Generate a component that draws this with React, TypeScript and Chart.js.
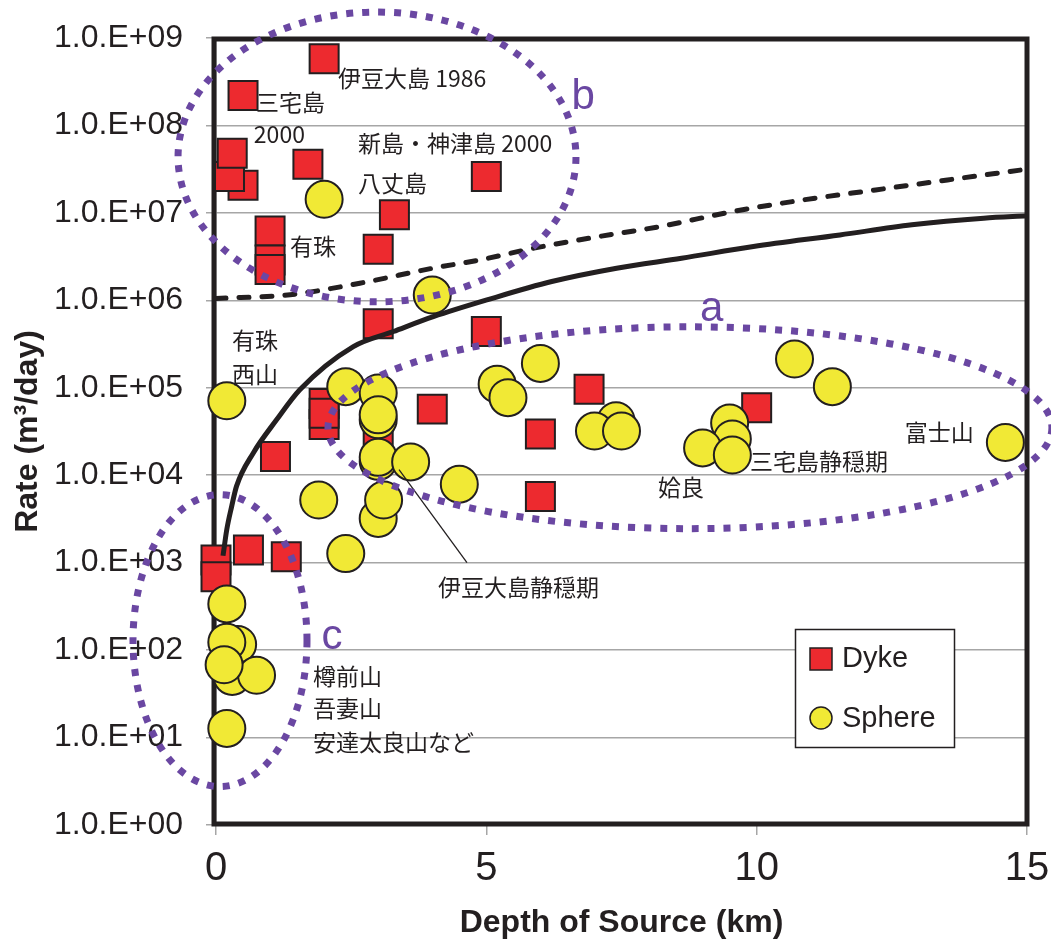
import React, { useEffect, useRef } from 'react';
import { Chart, registerables } from 'chart.js';

Chart.register(...registerables);

// ---- Axis ticks ----
const xTicks = [0, 5, 10, 15];
const yTickValues = [1, 10, 100, 1e3, 1e4, 1e5, 1e6, 1e7, 1e8, 1e9];
const yTickLabels = ['1.0.E+00', '1.0.E+01', '1.0.E+02', '1.0.E+03', '1.0.E+04', '1.0.E+05', '1.0.E+06', '1.0.E+07', '1.0.E+08', '1.0.E+09'];

// ---- Dyke (red squares) ----
const dykeDepth = [2.0, 0.5, 0.5, 0.25, 0.3, 1.7, 5.0, 3.3, 3.0, 1.0, 1.0, 1.0, 3.0, 5.0, 2.0, 2.0, 2.0, 1.1, 4.0, 6.0, 6.9, 6.0, 0.0, 0.0, 0.6, 1.3, 3.0, 10.0];
const dykeRate = [5.8e8, 2.2e8, 2.07e7, 2.6e7, 4.8e7, 3.6e7, 2.6e7, 9.5e6, 3.85e6, 6.2e6, 2.9e6, 2.25e6, 5.4e5, 4.4e5, 6.6e4, 3.8e4, 5.1e4, 1.64e4, 5.7e4, 2.96e4, 9.6e4, 5.7e3, 1.07e3, 6.9e2, 1.4e3, 1.17e3, 2.9e4, 5.9e4];

// ---- Sphere (yellow circles) ----
const sphereDepth = [2.0, 4.0, 0.2, 2.4, 3.0, 3.0, 3.0, 3.0, 3.0, 3.6, 4.5, 1.9, 3.0, 3.1, 2.4, 5.2, 5.4, 6.0, 7.4, 7.0, 7.5, 10.7, 11.4, 9.5, 9.55, 9.0, 9.55, 14.6, 0.2, 0.4, 0.2, 0.3, 0.75, 0.15, 0.2];
const sphereRate = [1.43e7, 1.15e6, 7.1e4, 1.03e5, 8.7e4, 4.3e4, 4.9e4, 1.44e4, 1.6e4, 1.42e4, 7.9e3, 5.2e3, 3.2e3, 5.2e3, 1.27e3, 1.1e5, 7.7e4, 1.9e5, 4.2e4, 3.2e4, 3.2e4, 2.13e5, 1.03e5, 3.95e4, 2.6e4, 2.05e4, 1.7e4, 2.37e4, 337, 116, 123, 50, 51.5, 68, 12.7];

// ---- Solid curve ----
const solidDepth = [0.13, 0.2, 0.29, 0.38, 0.69, 1.12, 1.55, 2.54, 3.28, 4.02, 5.01, 6.21, 7.41, 8.61, 9.94, 11.54, 12.87, 14.2, 15];
const solidRate = [1.2e3, 2.4e3, 4.4e3, 7.5e3, 1.8e4, 4.3e4, 9.5e4, 2.96e5, 4.4e5, 6.5e5, 1.01e6, 1.64e6, 2.33e6, 3.03e6, 4.12e6, 5.6e6, 7.3e6, 8.7e6, 9.25e6];

// ---- Dashed curve ----
const dashedDepth = [0, 1.37, 2.66, 4.01, 4.88, 5.88, 7.08, 8.21, 9.54, 10.87, 12.2, 13.53, 15];
const dashedRate = [1.05e6, 1.16e6, 1.57e6, 2.33e6, 2.9e6, 3.95e6, 5.36e6, 6.97e6, 1.03e7, 1.41e7, 1.83e7, 2.38e7, 3.16e7];

// ---- Annotations (anchored in data coordinates: depth, log10 rate) ----
const noteTexts = ['伊豆大島 1986', '三宅島', '2000', '新島・神津島 2000', '八丈島', '有珠', '有珠', '西山', '富士山', '三宅島静穏期', '姶良', '伊豆大島静穏期', '樽前山', '吾妻山', '安達太良山など'];
const noteDepth = [2.256, 0.74, 0.70, 2.626, 2.626, 1.369, 0.296, 0.296, 12.74, 9.876, 8.175, 4.106, 1.794, 1.794, 1.794];
const noteLogRate = [8.543, 8.269, 7.903, 7.8, 7.343, 6.623, 5.549, 5.149, 4.486, 4.154, 3.857, 2.714, 1.697, 1.331, 0.943];

const groupLetters = ['a', 'b', 'c'];
const groupLetterDepth = [9.17, 6.79, 2.145];
const groupLetterLog = [5.891, 8.326, 2.143];

const ellipseDepth = [8.766, 2.978, 0.074];
const ellipseLog = [4.543, 7.64, 2.109];
const ellipseHalfDepth = [6.695, 3.68, 1.609];
const ellipseHalfDecades = [1.154, 1.657, 1.669];

const leaderDepth = [3.385, 4.642];
const leaderLog = [4.063, 3.0];

const legendLabels = ['Dyke', 'Sphere'];

const INK = '#231F20';
const RED = '#ED2A2F';
const YELLOW = '#F1E935';
const PURPLE = '#6A47A2';
const GRID = '#A6A6A6';
const JP_FONT = '"Noto Sans CJK JP", "Noto Sans CJK SC", sans-serif';
const LAT_FONT = '"Liberation Sans", Arial, sans-serif';

const overlayPlugin = {
  id: 'overlay',
  beforeDatasetsDraw(chart: any) {
    const { ctx, chartArea: a } = chart;
    ctx.save();
    ctx.strokeStyle = INK;
    ctx.lineWidth = 5;
    ctx.strokeRect(a.left - 2, a.top + 1, a.right - a.left + 2, a.bottom - a.top - 2);
    ctx.restore();
  },
  afterDatasetsDraw(chart: any) {
    const { ctx } = chart;
    const xs = chart.scales.x;
    const ys = chart.scales.y;
    const px = (d: number) => xs.getPixelForValue(d);
    const py = (lg: number) => ys.getPixelForValue(Math.pow(10, lg));
    ctx.save();

    // leader line
    ctx.strokeStyle = INK;
    ctx.lineWidth = 1.3;
    ctx.beginPath();
    ctx.moveTo(px(leaderDepth[0]), py(leaderLog[0]));
    ctx.lineTo(px(leaderDepth[1]), py(leaderLog[1]));
    ctx.stroke();

    // Japanese notes
    ctx.fillStyle = INK;
    ctx.font = '23px ' + JP_FONT;
    ctx.textAlign = 'left';
    ctx.textBaseline = 'middle';
    noteTexts.forEach((t, i) => {
      ctx.fillText(t, px(noteDepth[i]), py(noteLogRate[i]));
    });

    // dotted ellipses
    ctx.strokeStyle = PURPLE;
    ctx.lineWidth = 7;
    ctx.setLineDash([7, 9]);
    ellipseDepth.forEach((d, i) => {
      const cx = px(d);
      const cy = py(ellipseLog[i]);
      const rx = px(d + ellipseHalfDepth[i]) - cx;
      const ry = cy - py(ellipseLog[i] + ellipseHalfDecades[i]);
      ctx.beginPath();
      ctx.ellipse(cx, cy, rx, ry, 0, 0, Math.PI * 2);
      ctx.stroke();
    });
    ctx.setLineDash([]);

    // group letters
    ctx.fillStyle = PURPLE;
    ctx.font = '42px ' + LAT_FONT;
    ctx.textAlign = 'center';
    groupLetters.forEach((t, i) => {
      ctx.fillText(t, px(groupLetterDepth[i]), py(groupLetterLog[i]));
    });

    // legend
    const lx = 795, ly = 629, lw = 159, lh = 118;
    ctx.fillStyle = '#FFFFFF';
    ctx.fillRect(lx, ly, lw, lh);
    ctx.strokeStyle = INK;
    ctx.lineWidth = 1.5;
    ctx.strokeRect(lx + 0.5, ly + 0.5, lw, lh);
    ctx.fillStyle = RED;
    ctx.fillRect(810, 648, 22, 22);
    ctx.lineWidth = 1.5;
    ctx.strokeRect(810, 648, 22, 22);
    ctx.beginPath();
    ctx.arc(821, 718, 11, 0, Math.PI * 2);
    ctx.fillStyle = YELLOW;
    ctx.fill();
    ctx.stroke();
    ctx.fillStyle = INK;
    ctx.font = '29px ' + LAT_FONT;
    ctx.textAlign = 'left';
    ctx.textBaseline = 'middle';
    ctx.fillText(legendLabels[0], 842, 659);
    ctx.fillText(legendLabels[1], 842, 719);

    ctx.restore();
  },
};

export default function App() {
  const canvasRef = useRef<HTMLCanvasElement | null>(null);

  useEffect(() => {
    if (!canvasRef.current) return;
    const toPts = (xs: number[], ys: number[]) => xs.map((x, i) => ({ x, y: ys[i] }));
    const chart = new Chart(canvasRef.current, {
      type: 'scatter',
      data: {
        datasets: [
          {
            label: 'solid',
            data: toPts(solidDepth, solidRate),
            showLine: true,
            borderColor: INK,
            borderWidth: 5,
            pointRadius: 0,
            cubicInterpolationMode: 'monotone',
            fill: false,
            order: 0,
            clip: false,
          } as any,
          {
            label: 'dashed',
            data: toPts(dashedDepth, dashedRate),
            showLine: true,
            borderColor: INK,
            borderWidth: 5,
            borderDash: [10, 13],
            borderCapStyle: 'round',
            pointRadius: 0,
            cubicInterpolationMode: 'monotone',
            fill: false,
            order: 0,
            clip: false,
          } as any,
          {
            label: 'Sphere',
            data: toPts(sphereDepth, sphereRate),
            pointStyle: 'circle',
            pointRadius: 18.5,
            pointHoverRadius: 18.5,
            backgroundColor: YELLOW,
            borderColor: INK,
            borderWidth: 2,
            order: 1,
            clip: false,
          } as any,
          {
            label: 'Dyke',
            data: toPts(dykeDepth, dykeRate),
            pointStyle: 'rect',
            pointRadius: 20.5,
            pointHoverRadius: 20.5,
            backgroundColor: RED,
            borderColor: INK,
            borderWidth: 2,
            order: 2,
            clip: false,
          } as any,
        ],
      },
      options: {
        responsive: false,
        animation: false,
        events: [],
        layout: { padding: { top: 38, right: 24, left: 0, bottom: 0 } },
        plugins: {
          legend: { display: false },
          tooltip: { enabled: false },
        },
        scales: {
          x: {
            type: 'linear',
            min: 0,
            max: 15,
            afterBuildTicks: (s: any) => {
              s.ticks = xTicks.map((v) => ({ value: v }));
            },
            afterFit: (s: any) => {
              s.height = 117;
              s.paddingLeft = 0;
              s.paddingRight = 0;
            },
            ticks: {
              color: INK,
              font: { family: LAT_FONT, size: 40 },
              padding: 10,
              callback: (v: any) => String(v),
            },
            grid: {
              drawOnChartArea: false,
              drawTicks: true,
              tickLength: 10,
              color: GRID,
              lineWidth: 1.5,
            },
            border: { display: true, color: GRID, width: 1.5 },
            title: {
              display: true,
              text: 'Depth of Source (km)',
              color: INK,
              font: { family: LAT_FONT, size: 32, weight: 'bold', lineHeight: 1.2 },
              padding: { top: 0, bottom: 0 },
            },
          },
          y: {
            type: 'logarithmic',
            min: 1,
            max: 1e9,
            afterBuildTicks: (s: any) => {
              s.ticks = yTickValues.map((v) => ({ value: v }));
            },
            afterFit: (s: any) => {
              s.width = 216;
              s.paddingTop = 0;
              s.paddingBottom = 0;
            },
            ticks: {
              color: INK,
              autoSkip: false,
              font: { family: LAT_FONT, size: 32 },
              padding: 23,
              callback: (v: any) => {
                const i = yTickValues.indexOf(Number(v));
                return i >= 0 ? yTickLabels[i] : '';
              },
            },
            grid: {
              drawTicks: true,
              tickLength: 10,
              color: GRID,
              lineWidth: 1.5,
            },
            border: { display: true, color: GRID, width: 1.5 },
            title: {
              display: true,
              text: 'Rate (m³/day)',
              color: INK,
              font: { family: LAT_FONT, size: 32, weight: 'bold', lineHeight: 1.2 },
              padding: { top: 9, bottom: 0 },
            },
          },
        },
      } as any,
      plugins: [overlayPlugin],
    });
    return () => chart.destroy();
  }, []);

  return (
    <div style={{ position: 'absolute', left: 0, top: 0, width: 1051, height: 942, background: '#FFFFFF' }}>
      <canvas ref={canvasRef} width={1051} height={942} style={{ display: 'block' }} />
    </div>
  );
}
